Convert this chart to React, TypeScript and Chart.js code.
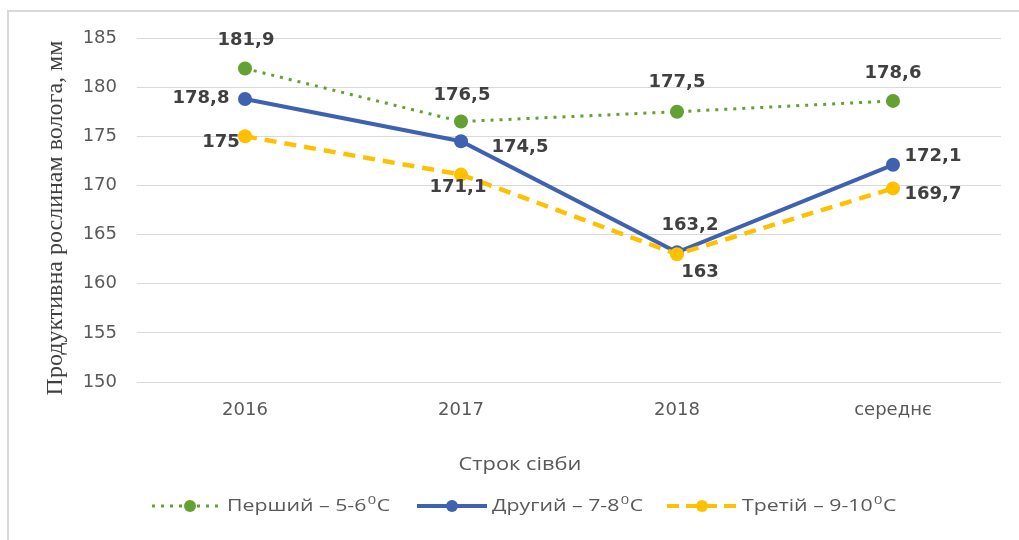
import React, { useEffect, useRef } from "react";
import { Chart, registerables } from "chart.js";

Chart.register(...registerables);

const categories = ["2016", "2017", "2018", "середнє"];
const seriesNames = ["Перший – 5-6", "Другий – 7-8", "Третій – 9-10"];
const firstValues = [181.9, 176.5, 177.5, 178.6];
const secondValues = [178.8, 174.5, 163.2, 172.1];
const thirdValues = [175, 171.1, 163, 169.7];
const valueLabels = [
  ["181,9", "176,5", "177,5", "178,6"],
  ["178,8", "174,5", "163,2", "172,1"],
  ["175", "171,1", "163", "169,7"],
];
const yTitle = "Продуктивна рослинам волога, мм";
const xTitle = "Строк сівби";

const GREEN = "#63A132";
const BLUE = "#3F62B0";
const YELLOW = "#FFC000";
const LABEL_COLOR = "#404040";
const TEXT_COLOR = "#595959";

// label placement relative to each point (dx, dy)
const labelOffsets = [
  [[1, -28], [1, -26], [0, -29], [0, -28]],
  [[-44, -1], [59, 6], [13, -27], [40, -8]],
  [[-24, 6], [-3, 13], [23, 18], [40, 6]],
];

const legendItems = [
  { color: GREEN, dash: [3, 6], width: 3, x0: 152, x1: 222, mx: 190, tx: 227 },
  { color: BLUE, dash: [], width: 4, x0: 417, x1: 487, mx: 452, tx: 492 },
  { color: YELLOW, dash: [12, 7], width: 4, x0: 667, x1: 740, mx: 702, tx: 742 },
];

const textFont = "'Open Sans', sans-serif";
const LEGEND_STRETCH = 1.33;
const XTITLE_STRETCH = 1.15;

const labelsPlugin = {
  id: "valueLabels",
  afterDatasetsDraw(chart: any) {
    const ctx = chart.ctx;
    ctx.save();
    ctx.font = "bold 18px 'DejaVu Sans', sans-serif";
    ctx.fillStyle = LABEL_COLOR;
    ctx.textAlign = "center";
    ctx.textBaseline = "middle";
    chart.data.datasets.forEach((_ds: any, di: number) => {
      const meta = chart.getDatasetMeta(di);
      meta.data.forEach((pt: any, i: number) => {
        const [dx, dy] = labelOffsets[di][i];
        ctx.fillText(valueLabels[di][i], pt.x + dx, pt.y + dy);
      });
    });
    ctx.restore();
  },
};

const decorPlugin = {
  id: "decor",
  afterDraw(chart: any) {
    const ctx = chart.ctx;
    const area = chart.chartArea;
    ctx.save();
    // frame (top and left edges visible)
    ctx.strokeStyle = "#d9d9d9";
    ctx.lineWidth = 2;
    ctx.beginPath();
    ctx.moveTo(8, 560);
    ctx.lineTo(8, 11);
    ctx.lineTo(1019, 11);
    ctx.stroke();
    // y title
    ctx.save();
    ctx.translate(56, (area.top + area.bottom) / 2 + 8);
    ctx.rotate(-Math.PI / 2);
    ctx.font = "24px 'Liberation Serif', serif";
    ctx.fillStyle = LABEL_COLOR;
    ctx.textAlign = "center";
    ctx.textBaseline = "middle";
    ctx.fillText(yTitle, 0, 0);
    ctx.restore();
    // x title
    ctx.save();
    ctx.translate(520, 465);
    ctx.scale(XTITLE_STRETCH, 1);
    ctx.font = `19px ${textFont}`;
    ctx.fillStyle = TEXT_COLOR;
    ctx.textAlign = "center";
    ctx.textBaseline = "middle";
    ctx.fillText(xTitle, 0, 0);
    ctx.restore();
    // legend
    const ly = 506;
    legendItems.forEach((it, i) => {
      ctx.save();
      ctx.strokeStyle = it.color;
      ctx.lineWidth = it.width;
      ctx.setLineDash(it.dash);
      ctx.beginPath();
      ctx.moveTo(it.x0, ly);
      ctx.lineTo(it.x1, ly);
      ctx.stroke();
      ctx.setLineDash([]);
      ctx.fillStyle = it.color;
      ctx.beginPath();
      ctx.arc(it.mx, ly, 6, 0, Math.PI * 2);
      ctx.fill();
      ctx.restore();
      ctx.save();
      ctx.translate(it.tx, ly);
      ctx.scale(LEGEND_STRETCH, 1);
      ctx.fillStyle = TEXT_COLOR;
      ctx.textAlign = "left";
      ctx.textBaseline = "middle";
      ctx.font = `16px ${textFont}`;
      const main = seriesNames[i];
      ctx.fillText(main, 0, 0);
      let x = ctx.measureText(main).width;
      ctx.font = `11px ${textFont}`;
      ctx.fillText("0", x + 1, -5);
      x += ctx.measureText("0").width + 1.5;
      ctx.font = `16px ${textFont}`;
      ctx.fillText("C", x, 0);
      ctx.restore();
    });
    ctx.restore();
  },
};

export default function App() {
  const ref = useRef<HTMLCanvasElement | null>(null);
  useEffect(() => {
    document.body.style.overflow = "hidden";
    const canvas = ref.current;
    if (!canvas) return;
    const pointOpts = (c: string) => ({
      borderColor: c,
      backgroundColor: c,
      pointBackgroundColor: c,
      pointBorderColor: c,
      pointRadius: 7,
      pointBorderWidth: 0,
      tension: 0,
      fill: false,
    });
    const chart = new Chart(canvas, {
      type: "line",
      data: {
        labels: categories,
        datasets: [
          { label: seriesNames[0], data: firstValues, ...pointOpts(GREEN), borderWidth: 3, borderDash: [3, 6], order: 2 },
          { label: seriesNames[1], data: secondValues, ...pointOpts(BLUE), borderWidth: 4, order: 1 },
          { label: seriesNames[2], data: thirdValues, ...pointOpts(YELLOW), borderWidth: 4.5, borderDash: [12, 8], order: 0 },
        ],
      },
      options: {
        responsive: false,
        animation: false,
        layout: { padding: { top: 38, left: 0, right: 18, bottom: 0 } },
        plugins: { legend: { display: false }, tooltip: { enabled: false } },
        scales: {
          x: {
            type: "category",
            offset: true,
            grid: { display: false, drawTicks: false },
            border: { display: false },
            ticks: { color: TEXT_COLOR, font: { family: "'DejaVu Sans', sans-serif", size: 18 }, padding: 18 },
            afterFit: (s: any) => { s.height = 158; },
          },
          y: {
            min: 150,
            max: 185,
            grid: { color: "#d9d9d9", lineWidth: 1, drawTicks: false },
            border: { display: false },
            ticks: { stepSize: 5, color: TEXT_COLOR, font: { family: "'DejaVu Sans', sans-serif", size: 18 }, padding: 20 },
            afterFit: (s: any) => { s.width = 137; },
          },
        },
      },
      plugins: [labelsPlugin, decorPlugin],
    } as any);
    return () => chart.destroy();
  }, []);
  return (
    <canvas
      ref={ref}
      width={1019}
      height={540}
      style={{ position: "fixed", left: 0, top: 0, width: 1019, height: 540 }}
    />
  );
}
